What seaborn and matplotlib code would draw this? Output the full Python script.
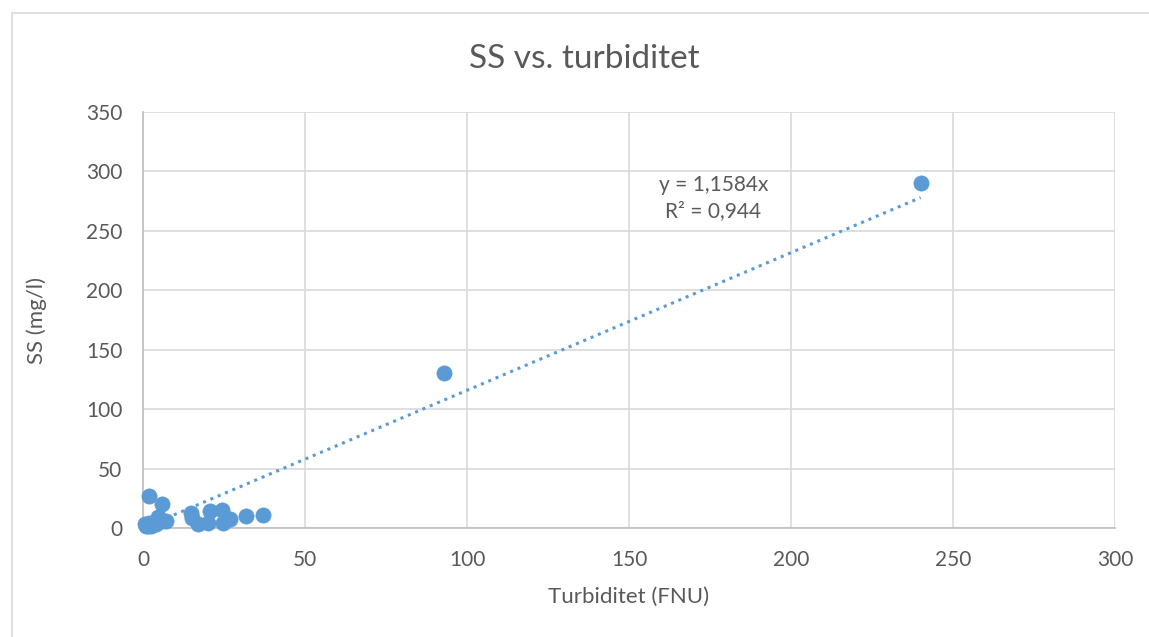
import matplotlib
matplotlib.use("Agg")
import matplotlib.pyplot as plt
import seaborn as sns
import numpy as np
import pandas as pd
from matplotlib.patches import Rectangle

# Data
turbidity = [0.5, 1.0, 1.5, 2.0, 2.5, 3.0, 4.0, 4.6, 5.0, 6.0, 7.0, 1.9, 5.8,
             14.8, 15.0, 17.0, 20.0, 20.7, 24.5, 24.8, 26.9, 31.8, 36.9, 93.0, 240.0]
ss = [3.0, 2.0, 1.5, 4.0, 2.0, 3.0, 3.0, 9.5, 8.0, 6.0, 6.0, 27.0, 20.0,
      12.5, 8.0, 3.4, 4.0, 14.6, 15.0, 4.0, 7.3, 10.4, 11.0, 130.0, 290.0]
slope = 1.1584
r2 = 0.944
x_ticks = [0, 50, 100, 150, 200, 250, 300]
y_ticks = [0, 50, 100, 150, 200, 250, 300, 350]
title = "SS vs. turbiditet"
xlabel = "Turbiditet (FNU)"
ylabel = "SS (mg/l)"

df = pd.DataFrame({"x": turbidity, "y": ss})

sns.set_theme(style="white")
plt.rcParams['font.family'] = ['Lato', 'DejaVu Sans']

blue = "#5b9bd5"
grey_text = "#595959"

fig = plt.figure(figsize=(11.49, 6.37), dpi=100)
fig.patches.append(Rectangle((12/1149, -0.2), 1.2, 1.2 - 13/637, transform=fig.transFigure,
                             fill=False, edgecolor="#d9d9d9", linewidth=1.2))
ax = fig.add_axes([143/1149, 1 - 528/637, (1115 - 143)/1149, (528 - 112)/637])

# trendline
xl = np.linspace(min(turbidity), max(turbidity), 50)
ax.plot(xl, slope * xl, linestyle=(0, (1, 1.6)), color=blue, linewidth=2.2, zorder=2)

sns.scatterplot(data=df, x="x", y="y", ax=ax, color=blue, s=120, edgecolor=blue,
                linewidth=0.5, zorder=3, clip_on=False)

ax.set_xlim(0, 300)
ax.set_ylim(0, 350)
ax.set_xticks(x_ticks)
ax.set_yticks(y_ticks)
ax.grid(True, color="#d9d9d9", linewidth=1.2)
ax.set_axisbelow(True)
for s in ["top", "right"]:
    ax.spines[s].set_visible(False)
for s in ["left", "bottom"]:
    ax.spines[s].set_color("#bfbfbf")
    ax.spines[s].set_linewidth(1.2)
ax.tick_params(axis="x", length=0, labelsize=15, colors=grey_text, pad=16)
ax.tick_params(axis="y", length=0, labelsize=15, colors=grey_text, pad=15)
ax.set_xlabel(xlabel, fontsize=16, color=grey_text, labelpad=12)
ax.set_ylabel(ylabel, fontsize=16, color=grey_text, labelpad=28)
fig.text(0.5 + 10/1149, 1 - 59/637, title, ha="center", va="center", fontsize=24, color=grey_text)

ax.text(176, 289, "y = 1,1584x", ha="center", va="center", fontsize=15, color=grey_text)
ax.text(176, 267, "R² = 0,944", ha="center", va="center", fontsize=15, color=grey_text)

fig.savefig("out.png", dpi=100, facecolor="white")
